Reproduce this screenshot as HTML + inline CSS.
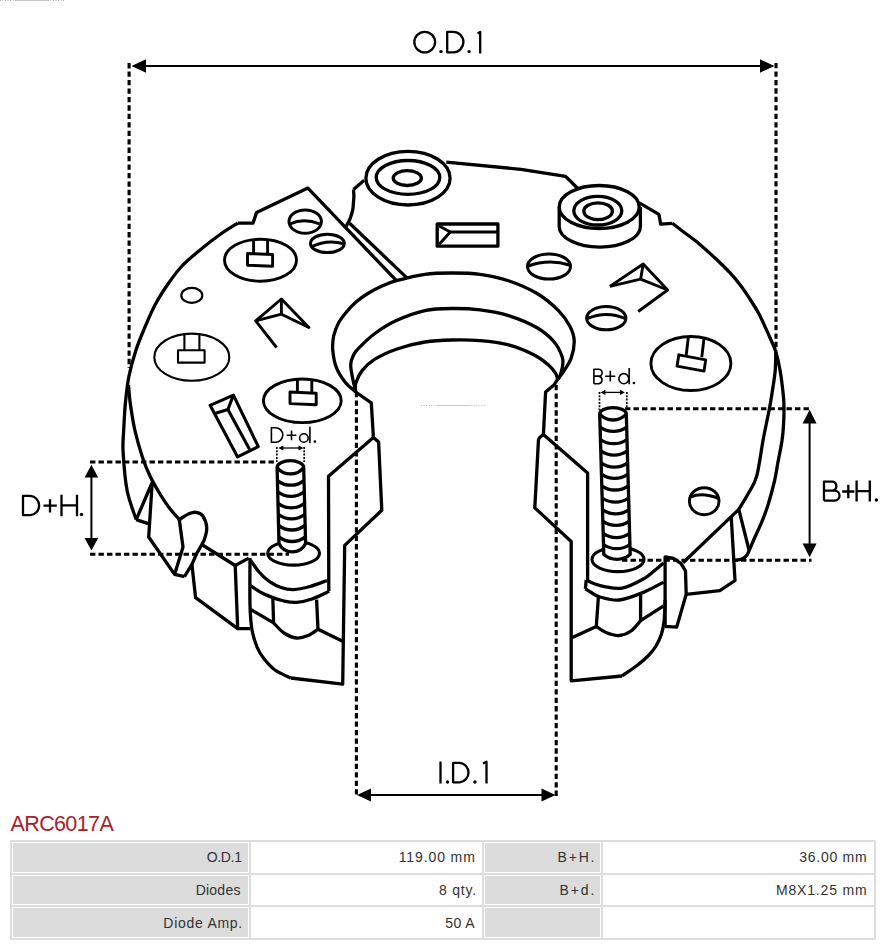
<!DOCTYPE html>
<html><head><meta charset="utf-8">
<style>
html,body{margin:0;padding:0;background:#fff;}
body{width:890px;height:946px;position:relative;overflow:hidden;font-family:"Liberation Sans",sans-serif;}
svg{position:absolute;left:0;top:0;}
svg path, svg ellipse{stroke-linejoin:round;stroke-linecap:butt;}
h1{position:absolute;left:10.5px;top:811.6px;margin:0;font-weight:normal;font-size:21.5px;line-height:24px;letter-spacing:-0.62px;color:#a8222c;}
table{position:absolute;left:10px;top:840px;border-collapse:separate;border-spacing:2px;background:#dddddd;font-size:14px;color:#333;}
td{border:1px solid #fff;height:30.67px;padding:0 4px 0 0;letter-spacing:0.85px;text-align:right;vertical-align:middle;box-sizing:border-box;}
td.l{background:#dcdcdc;}
td.v{background:#fff;}
</style></head><body>
<svg width="890" height="946" viewBox="0 0 890 946">
<g fill="none" stroke="#000">
<path d="M144 66H762" stroke-width="2.2" fill="none"/>
<path d="M131.5 66 L146 59.3 L146 72.7Z" fill="#000" stroke="none"/>
<path d="M774.5 66 L760 59.3 L760 72.7Z" fill="#000" stroke="none"/>
<path d="M129.1 63.1V368" stroke-width="3.1" stroke-dasharray="5.3 3.15"/>
<path d="M776 63V351" stroke-width="3.1" stroke-dasharray="5.3 3.15"/>
<path d="M356.4 392V797" stroke-width="3.1" stroke-dasharray="5.3 3.15"/>
<path d="M556.2 385V797" stroke-width="3.1" stroke-dasharray="5.3 3.15"/>
<path d="M368 795H545" stroke-width="2.2" fill="none"/>
<path d="M357 795 L371 788.5 L371 801.5Z" fill="#000" stroke="none"/>
<path d="M555.5 795 L541.5 788.5 L541.5 801.5Z" fill="#000" stroke="none"/>
<path d="M91.4 476V540" stroke-width="2" fill="none"/>
<path d="M91.4 464.8 L84.6 477.5 L98.2 477.5Z" fill="#000" stroke="none"/>
<path d="M91.4 550.6 L84.6 538 L98.2 538Z" fill="#000" stroke="none"/>
<path d="M90 462H277" stroke-width="3.1" stroke-dasharray="5.4 3.1"/>
<path d="M90 554.2H289" stroke-width="3.1" stroke-dasharray="5.4 3.1"/>
<path d="M809.6 422V545" stroke-width="2" fill="none"/>
<path d="M809.6 409.8 L802.6 423.5 L816.6 423.5Z" fill="#000" stroke="none"/>
<path d="M809.6 557.2 L802.6 543.5 L816.6 543.5Z" fill="#000" stroke="none"/>
<path d="M625 408.7H811.5" stroke-width="3.1" stroke-dasharray="5.4 3.1"/>
<path d="M622 560.3H811.5" stroke-width="3.1" stroke-dasharray="5.4 3.1"/>
<path d="M282 448H300" stroke-width="1.3" fill="none"/>
<path d="M278.3 448 L283.3 445.4 L283.3 450.6Z" fill="#000" stroke="none"/>
<path d="M303.5 448 L298.5 445.4 L298.5 450.6Z" fill="#000" stroke="none"/>
<path d="M276.8 447V462" stroke-width="1.7" stroke-dasharray="2 1.3"/>
<path d="M304.2 447V462" stroke-width="1.7" stroke-dasharray="2 1.3"/>
<path d="M604 392.4H622" stroke-width="1.3" fill="none"/>
<path d="M600.5 392.4 L605.4 389.8 L605.4 395Z" fill="#000" stroke="none"/>
<path d="M624.9 392.4 L620 389.8 L620 395Z" fill="#000" stroke="none"/>
<path d="M599.5 392V411" stroke-width="1.7" stroke-dasharray="2 1.3"/>
<path d="M626.8 392V408.6" stroke-width="1.7" stroke-dasharray="2 1.3"/>
<ellipse cx="424.7" cy="42.1" rx="10.4" ry="10.3" stroke-width="2.3" fill="none"/>
<circle cx="441" cy="51.6" r="1.7" fill="#000" stroke="none"/>
<path d="M447.2 31.9V52.3H453.2A10.2 10.2 0 0 0 453.2 31.9H447.2Z" stroke-width="2.3" fill="none"/>
<circle cx="469.1" cy="51.6" r="1.7" fill="#000" stroke="none"/>
<path d="M477.6 33.5L480.2 31.9V53.5" stroke-width="2.3" fill="none"/>
<path d="M440.5 761.5V783.5" stroke-width="2.3" fill="none"/>
<circle cx="447.5" cy="782" r="1.7" fill="#000" stroke="none"/>
<path d="M453.1 762.8V782.3H459.7A9.8 9.8 0 0 0 459.7 762.8H453.1Z" stroke-width="2.3" fill="none"/>
<circle cx="474.9" cy="782" r="1.7" fill="#000" stroke="none"/>
<path d="M483 763.5L486.5 761.8V783.5" stroke-width="2.3" fill="none"/>
<path d="M23 495.9V515.2H30.4A9.7 9.7 0 0 0 30.4 495.9H23Z" stroke-width="2.3" fill="none"/>
<path d="M50 499.2V512.5M43.5 505.6H56.8" stroke-width="2.3" fill="none"/>
<path d="M61.5 494.7V516.2M77 494.7V516.2M61.5 505.3H77" stroke-width="2.3" fill="none"/>
<circle cx="81.5" cy="514.4" r="1.7" fill="#000" stroke="none"/>
<path d="M824 500.7V481.7H832.5A4.5 4.5 0 0 1 832.5 490.6H824M824 490.6H834.5A5 5 0 0 1 834.5 500.7H824" stroke-width="2.3" fill="none"/>
<path d="M848.3 484.8V498.2M842.2 491.5H854.4" stroke-width="2.3" fill="none"/>
<path d="M856.6 480.5V501.6M869.8 480.5V501.6M856.6 491.2H869.8" stroke-width="2.3" fill="none"/>
<circle cx="876.4" cy="500" r="1.7" fill="#000" stroke="none"/>
<path d="M271.4 427.8V442.2H275.6A7.2 7.2 0 0 0 275.6 427.8H271.4Z" stroke-width="1.6" fill="none"/>
<path d="M291.5 430.5V440.2M286.6 435.3H296.4" stroke-width="1.6" fill="none"/>
<ellipse cx="303.9" cy="438" rx="4.3" ry="4.3" stroke-width="1.6" fill="none"/>
<path d="M309.9 426.8V442.9" stroke-width="1.6" fill="none"/>
<circle cx="314.9" cy="441.6" r="1.3" fill="#000" stroke="none"/>
<path d="M593.9 383.8V369.2H598.7A3.4 3.4 0 0 1 598.7 376.1H593.9M593.9 376.1H598.7A3.9 3.9 0 0 1 598.7 383.8H593.9" stroke-width="1.6" fill="none"/>
<path d="M610.3 370.8V381.6M605.2 376.2H615.3" stroke-width="1.6" fill="none"/>
<ellipse cx="623.8" cy="378.7" rx="4.9" ry="5.1" stroke-width="1.6" fill="none"/>
<path d="M629.2 368.1V384.3" stroke-width="1.6" fill="none"/>
<circle cx="633.9" cy="383" r="1.3" fill="#000" stroke="none"/>
<path d="M0 0.5H16" stroke-width="1" stroke-dasharray="1 1.5" style="stroke:#b0b0b0"/>
<path d="M16 0.5H48" stroke="#bbb" stroke-width="1" style="stroke:#c4c4c4"/>
<path d="M48 0.5H64" stroke-width="1" stroke-dasharray="1 1.5" style="stroke:#b0b0b0"/>
<path d="M136.2 519.6 C134.7 514.8 129.3 501.8 127.1 490.5 C124.9 479.2 123.7 462.1 123.1 452 C122.5 441.9 123.3 438.3 123.7 430 C124.1 421.7 124.6 411 125.5 402 C126.4 393 127.2 384.7 129 376 C130.8 367.3 133.3 358.2 136 350 C138.7 341.8 141.8 334.5 145 327 C148.2 319.5 151.2 312.2 155 305 C158.8 297.8 163.5 290.5 168 284 C172.5 277.5 176.7 271.7 182 266 C187.3 260.3 193.7 255.2 200 250 C206.3 244.8 213.7 239 220 234.5 C226.3 230 234.8 225 237.8 223.1" stroke-width="3.3" fill="none"/>
<path d="M237.8 223.1 L253 223.1 L256.6 212.4 L307.9 188.1 L395.7 279.9" stroke-width="3.3" fill="none"/>
<path d="M128.5 385 C128.8 388.3 129.4 397.5 130.5 405 C131.6 412.5 132.9 421.4 134.8 430 C136.8 438.6 139.7 448.7 142.2 456.4 C144.7 464.1 147 469.6 150 476 C153 482.4 157.1 489.2 160.3 494.5 C163.5 499.8 165.8 503.3 169 507.5 C172.2 511.7 177.6 517.6 179.3 519.6" stroke-width="3.3" fill="none"/>
<path d="M136.2 519.6 L148.2 523.6" stroke-width="3.3" fill="none"/>
<path d="M136.2 519.6 L152.2 482.5 L148.7 537 L174.6 574.4 L184.5 576.6" stroke-width="3.3" fill="none"/>
<path d="M179.3 519.6 C181 518.6 186.6 514.8 189.4 513.6 C192.2 512.4 193.8 512 196 512.3 C198.2 512.6 200.7 513 202.5 515.5 C204.3 518 206.4 523.2 206.7 527.2 C207 531.2 205.9 535.3 204.3 539.6 C202.7 543.9 199.1 548.9 197 553 C194.9 557.1 194 560.4 191.9 564.3 C189.8 568.2 185.7 574.5 184.5 576.6" stroke-width="3.3" fill="none"/>
<path d="M179.3 519.6 L183 547 L174.6 574.4" stroke-width="3.3" fill="none"/>
<path d="M202.5 545 L235.2 565.5 L248.8 558.1" stroke-width="3.3" fill="none"/>
<path d="M191.9 564.3 L195.6 597.7 L237.7 628.6 L250 628.6" stroke-width="3.3" fill="none"/>
<path d="M235.2 565.5 L237.7 628.6" stroke-width="3.3" fill="none"/>
<path d="M349.6 223.3 L406.9 277.9" stroke-width="3.3" fill="none"/>
<ellipse cx="260.5" cy="260.2" rx="36" ry="21" stroke-width="2.9" fill="none"/>
<path d="M253.6 239.6L253.6 253.5M267.6 239.6L267.6 254" stroke-width="2.9" fill="none"/>
<path d="M247.5 253.5 L272.6 254.5 L272.6 266.2 L247.5 265.2Z" stroke-width="2.9" fill="none"/>
<ellipse cx="191.8" cy="357.2" rx="37.5" ry="23.6" stroke-width="2.1" fill="none"/>
<path d="M184.4 334.1L184.4 350.2M199.4 334.1L199.4 350.2" stroke-width="2.1" fill="none"/>
<path d="M178 350.2 L204.6 350.2 L204.6 362.6 L178 362.6Z" stroke-width="2.1" fill="none"/>
<ellipse cx="302.3" cy="400.8" rx="38.9" ry="21.8" stroke-width="2.9" fill="none"/>
<path d="M297.4 379.2L297.4 392M311.8 379.7L311.8 392.6" stroke-width="2.9" fill="none"/>
<path d="M290 392 L316.2 393.2 L316.2 404.8 L290 403.6Z" stroke-width="2.9" fill="none"/>
<ellipse cx="191.8" cy="295.4" rx="10.5" ry="7.5" stroke-width="2.2" fill="none"/>
<ellipse cx="305.2" cy="221.6" rx="16.2" ry="11.7" stroke-width="3" fill="none"/>
<path d="M289.9 223.8 Q303.9 217.6 319.6 223.8" stroke-width="3" fill="none"/>
<ellipse cx="327.4" cy="243.4" rx="16.9" ry="9.2" stroke-width="3" fill="none"/>
<path d="M311.9 246.7 Q327.1 239 344.3 244" stroke-width="3" fill="none"/>
<path d="M276.6 347.5 L255.7 320.9 L281.4 299 L308.9 327.5 L281.4 314.2 L255.7 320.9" stroke-width="2.9" fill="none"/>
<path d="M281.4 299 L281.4 314.2" stroke-width="2.9" fill="none"/>
<path d="M210.1 405.3 L233.4 395.1 L258.3 446.7 L237.6 456.9Z" stroke-width="3.1" fill="none"/>
<path d="M215.6 413.3 L227.9 409.5 L233.4 395.1" stroke-width="3.1" fill="none"/>
<path d="M227.9 409.5 L249.5 449.2" stroke-width="3.1" fill="none"/>
<path d="M364.2 180.3L353.5 189.4" stroke-width="3.3" fill="none"/>
<path d="M353.5 189.4 C353.6 190.5 353.9 193.8 353.9 196.1 C353.9 198.4 353.6 200.8 353.4 203 C353.2 205.2 353.3 206.8 352.8 209.4 C352.3 212 351.3 215.5 350.2 218.3 C349.1 221.1 346.8 225.1 346.1 226.4" stroke-width="3.3" fill="none"/>
<path d="M446.3 162.2 L521.1 169.3 L565.6 176.4 L577.8 188.5" stroke-width="3.3" fill="none"/>
<ellipse cx="408" cy="178.2" rx="42.1" ry="26.8" stroke-width="3.3" fill="none"/>
<ellipse cx="408" cy="177.4" rx="31.8" ry="16.9" stroke-width="3.3" fill="none"/>
<ellipse cx="407.3" cy="178.1" rx="14.1" ry="7.4" stroke-width="3.3" fill="none"/>
<path d="M437.2 224 L497.9 224 L497.9 246.2 L437.2 246.2Z" stroke-width="3.3" fill="none"/>
<path d="M439.2 226 L450.3 232 L439.2 244.2" stroke-width="2.9" fill="none"/>
<path d="M450.3 232 L497.9 232" stroke-width="2.9" fill="none"/>
<path d="M355.7 392 C353.9 390.3 348.2 386.1 345 382 C341.8 377.9 338.4 372.9 336.4 367.7 C334.4 362.5 333.3 355.8 332.8 350.6 C332.3 345.4 332.7 340.9 333.6 336.3 C334.6 331.7 336.4 327 338.5 323 C340.6 319 343.5 315.6 346.4 312.1 C349.3 308.6 352.4 305.1 356 302 C359.6 298.9 363.6 296.1 367.8 293.5 C372 290.9 376.2 288.6 381 286.5 C385.8 284.4 389 282.7 396.3 280.7 C403.6 278.7 415.6 275.6 424.9 274.3 C434.2 273 442.8 273 452 273 C461.2 273 470.6 273 480 274.3 C489.4 275.6 499 277.5 508.5 280.7 C518 283.9 528.8 288.5 537.1 293.5 C545.4 298.5 553 305.1 558.5 310.6 C564 316.1 567.3 321.3 569.9 326.3 C572.5 331.3 574 335.4 574.2 340.6 C574.4 345.8 573 352.7 571.3 357.7 C569.6 362.7 566.5 367 564.2 370.6 C561.9 374.2 558.8 377.7 557.7 379.1" stroke-width="3.3" fill="none"/>
<path d="M355.7 390.5 C355.2 388.6 353.6 383.4 352.8 379.1 C352 374.8 350.6 368.9 350.7 364.9 C350.8 360.9 352.1 357.9 353.5 355 C354.9 352.1 355.6 351.3 359.2 347.7 C362.8 344.1 368.7 338 374.9 333.5 C381.1 329 388 324.4 396.3 320.6 C404.6 316.8 415.6 312.6 424.9 310.6 C434.2 308.6 442.8 308.6 452 308.5 C461.2 308.4 470.6 308.7 480 309.9 C489.4 311.1 499 312.6 508.5 315.6 C518 318.6 529.5 323.4 537.1 327.8 C544.7 332.2 550.1 337.2 554.2 342 C558.4 346.8 560.6 352.5 562 356.3 C563.4 360.1 563.1 361.6 562.7 364.9 C562.4 368.2 560.7 373.9 559.9 376.3 C559.1 378.7 558.1 378.6 557.7 379.1" stroke-width="3.3" fill="none"/>
<path d="M355.7 392 C355.7 390.6 354.6 387 355.7 383.4 C356.8 379.8 358.9 374.6 362.1 370.6 C365.3 366.6 369.2 362.8 374.9 359.2 C380.6 355.6 388 352.1 396.3 349.2 C404.6 346.3 415.6 343.5 424.9 342 C434.2 340.5 442.8 340.2 452 340 C461.2 339.8 470.6 339.8 480 340.6 C489.4 341.4 499.5 342.5 508.5 344.9 C517.5 347.3 527.5 351.6 534.2 354.9 C540.9 358.2 544.9 361.8 548.5 364.9 C552.1 368 554.1 371 555.6 373.4 C557.1 375.8 557.4 378.2 557.7 379.1" stroke-width="3.3" fill="none"/>
<path d="M421 405.5H436M468.6 405.5H485.5" stroke-width="1" stroke-dasharray="1 1.5" style="stroke:#b8b8b8"/>
<path d="M436 405.5H468.6" stroke-width="1" style="stroke:#c8c8c8"/>
<path d="M355.7 392 L371.3 402.8 L373.4 437.5 L378.6 442 L381.8 510.3 L344.7 545.4 L342.7 684.2 L290.8 678" stroke-width="3.3" fill="none"/>
<path d="M250 558 C250 565.8 249.7 593 250 605 C250.3 617 250.8 623 252 630 C253.2 637 255.1 642.3 257 647 C258.9 651.7 260.6 654.4 263.6 658.2 C266.6 662 270.5 666.7 275 670 C279.5 673.3 288.2 676.7 290.8 678" stroke-width="3.3" fill="none"/>
<path d="M373.4 437.5 L328.5 476.2 L328.8 591" stroke-width="3.3" fill="none"/>
<path d="M250.6 560.3 C252 562.2 255.8 568.4 259 572 C262.2 575.6 265.9 579.1 269.6 581.7 C273.3 584.3 277 586.2 281 587.5 C285 588.8 288.6 589.8 293.4 589.6 C298.2 589.4 304.4 588 310 586.5 C315.6 585 324.2 581.5 327 580.5" stroke-width="3.3" fill="none"/>
<path d="M250.6 585.7 C252.3 586.8 257.3 590.5 261 592.5 C264.7 594.5 269 596.2 272.8 597.6 C276.6 599 280 600.2 284 601 C288 601.8 291.9 602.6 296.6 602.3 C301.3 602 306.6 600.9 312 599 C317.4 597.1 326.3 592.5 329.2 591.2" stroke-width="3.3" fill="none"/>
<path d="M250.6 609.4 L273.6 622.9" stroke-width="3.3" fill="none"/>
<path d="M272.8 597.8 L273.6 622.9" stroke-width="3.3" fill="none"/>
<path d="M273.6 622.9 C275.3 624.6 280.2 630.5 284 633 C287.8 635.5 292.6 637.6 296.6 638 C300.6 638.4 304.4 637 308 635.5 C311.6 634 316.3 630.3 318 629.3" stroke-width="3.3" fill="none"/>
<path d="M316.6 599.6 L318 629.3 L342.7 641.2" stroke-width="3.3" fill="none"/>
<ellipse cx="293.6" cy="553.2" rx="25.9" ry="11.9" stroke-width="3.1" fill="none"/>
<path d="M277.1 467.5A13.3 6.8 0 0 1 303.7 467.5L305.6 543.5A14.7 14.7 0 0 1 279 543.5Z" stroke-width="3.3" fill="#fff"/>
<path d="M277.1 467.5A16.9 16.9 0 0 0 303.7 467.5" stroke-width="3.3" fill="none"/>
<path d="M277.4 480.6A21.5 21.5 0 0 0 304 480.6" stroke-width="3.3" fill="none"/>
<path d="M277.7 491.8A21.5 21.5 0 0 0 304.3 491.8" stroke-width="3.3" fill="none"/>
<path d="M278 503.2A21.5 21.5 0 0 0 304.6 503.2" stroke-width="3.3" fill="none"/>
<path d="M278.3 514.2A21.5 21.5 0 0 0 304.9 514.2" stroke-width="3.3" fill="none"/>
<path d="M278.5 525.4A21.5 21.5 0 0 0 305.1 525.4" stroke-width="3.3" fill="none"/>
<path d="M278.8 536.9A21.5 21.5 0 0 0 305.4 536.9" stroke-width="3.3" fill="none"/>
<path d="M0 0" stroke-width="3.3" fill="none"/>
<ellipse cx="599.2" cy="207" rx="40" ry="21.5" stroke-width="3.3" fill="none"/>
<path d="M559.2 207V226.4A40.6 20.7 0 0 0 640.4 226.4V207" stroke-width="3.3" fill="none"/>
<ellipse cx="597.8" cy="210.7" rx="24" ry="14.3" stroke-width="3.3" fill="none"/>
<ellipse cx="598.1" cy="211.2" rx="14.3" ry="8.4" stroke-width="3.3" fill="none"/>
<path d="M639.3 202.8 L658.9 214.3 L660.7 224.2 L672.4 223.3" stroke-width="3.3" fill="none"/>
<path d="M672.4 223.3 C674.5 224.9 680.5 229.6 685 233 C689.5 236.4 694.3 239.7 699.3 243.9 C704.3 248.1 709.9 253.2 715 258 C720.1 262.8 725.6 268 729.9 272.7 C734.2 277.4 737.4 281.2 741 286 C744.6 290.8 748.5 296.8 751.5 301.5 C754.5 306.2 756.6 309.5 759 314 C761.4 318.5 763.8 324.1 765.8 328.4 C767.8 332.7 769.3 336.1 771 340 C772.7 343.9 774.3 346.7 775.8 351.7 C777.3 356.7 778.7 362.6 780 370 C781.3 377.4 782.7 389.1 783.4 396 C784.1 402.9 784 406.5 784 411.3 C784 416.1 783.8 420.2 783.5 425 C783.2 429.8 783 433.8 782.1 440 C781.2 446.2 779.3 455.1 778 462 C776.7 468.9 776.1 474.3 774.4 481.5 C772.7 488.7 770.1 498.2 768 505 C765.9 511.8 763.9 516.8 761.7 522.1 C759.5 527.4 757 532.6 755 537 C753 541.4 751.3 545.5 750 548.5 C748.7 551.5 748.3 553.2 747 555 C745.7 556.8 744 558.1 742 559 C740 559.9 736.3 560.1 735.2 560.3" stroke-width="3.3" fill="none"/>
<path d="M775.8 351.7 C775.7 354.9 775.8 364.3 775.2 370.7 C774.7 377.1 773.5 383.7 772.5 390 C771.5 396.3 771 400.4 769.4 408.7 C767.8 417 765.2 428.7 763.1 440 C761 451.3 759.1 467.4 756.6 476.4 C754.1 485.4 751 488.5 748 494 C745 499.5 740.3 506.8 738.8 509.4" stroke-width="3.3" fill="none"/>
<path d="M683 562.7 L738.8 509.4 L749 550" stroke-width="3.3" fill="none"/>
<path d="M731.2 516.5 L735 580.5 L719.8 590.7 L686.2 594.3" stroke-width="3.3" fill="none"/>
<path d="M665.1 626.4 L665.1 557 L673.8 558.5 L681.1 563.6 L685.5 570.9 L686.2 594.3 L676.7 627.1 L665.1 626.4" stroke-width="3.3" fill="none"/>
<ellipse cx="549" cy="266.5" rx="21.5" ry="12.6" stroke-width="3" fill="none"/>
<path d="M528.3 266 Q548.7 258.4 570.3 265.3" stroke-width="3" fill="none"/>
<ellipse cx="606.3" cy="318.2" rx="19.6" ry="11.6" stroke-width="3" fill="none"/>
<path d="M587.2 318.5 Q606.3 310.3 625.4 318.5" stroke-width="3" fill="none"/>
<ellipse cx="704.2" cy="501.2" rx="14.8" ry="13.5" stroke-width="3" fill="none"/>
<path d="M690.7 496.9 Q702.5 492.1 718.8 498.5" stroke-width="3" fill="none"/>
<path d="M609.9 286.4 L643.2 264 L667.6 290 L638.2 311.5" stroke-width="2.9" fill="none"/>
<path d="M609.9 286.4 L640.6 279.2 L667.6 290" stroke-width="2.9" fill="none"/>
<path d="M643.2 264 L640.6 279.2" stroke-width="2.9" fill="none"/>
<ellipse cx="690.9" cy="363.5" rx="40" ry="27" stroke-width="2.9" fill="none"/>
<path d="M678.8 354.8 L705.7 359.9 L704 371.1 L677.1 366.1Z" stroke-width="2.9" fill="none"/>
<path d="M688.3 337.5L686.1 356M704 338.5L701.8 357.1" stroke-width="2.9" fill="none"/>
<path d="M557.7 379.1 L554.2 384.8 L545.6 392 L543.4 434.6 L587.6 473 L587.6 582" stroke-width="3.3" fill="none"/>
<path d="M543.4 434.6 L539.9 437.3 L538.5 439.4 L534.8 507.9 L571.2 541.5 L571.2 680.8 L622 676" stroke-width="3.3" fill="none"/>
<path d="M665.1 600 C665 603.3 664.8 614.3 664.2 620 C663.6 625.7 662.9 629.7 661.5 634 C660.1 638.3 658.2 642.3 656 646 C653.8 649.7 651.2 652.8 648 656 C644.8 659.2 641.3 662.2 637 665.5 C632.7 668.8 624.5 674.2 622 676" stroke-width="3.3" fill="none"/>
<path d="M586.2 580 C587.7 580.7 592 582.9 595 584 C598 585.1 599.9 585.9 604.4 586.6 C608.9 587.3 615.7 589.3 622.1 588.1 C628.5 586.9 637.6 582.1 642.9 579.2 C648.2 576.4 650.5 573.7 654 571 C657.5 568.3 662 564.3 663.6 563" stroke-width="3.3" fill="none"/>
<path d="M585.4 588.9 C586.5 589.6 589.6 591.6 592 593 C594.4 594.4 595.5 595.8 600 597 C604.5 598.2 612.1 600.7 619.2 600 C626.4 599.3 635.5 595.6 642.9 592.6 C650.3 589.6 660.1 583.9 663.6 582.2" stroke-width="3.3" fill="none"/>
<path d="M586.2 580 L585.4 588.9" stroke-width="3.3" fill="none"/>
<path d="M598.3 598 L596.3 626.6 L571.8 637.7" stroke-width="3.3" fill="none"/>
<path d="M640.6 595 L640.6 620.7 L663.6 605.9" stroke-width="3.3" fill="none"/>
<path d="M596.3 626.6 C597.9 627.6 602.2 631 606 632.5 C609.8 634 615 635.8 619.2 635.5 C623.4 635.2 627.4 633.5 631 631 C634.6 628.5 639 622.4 640.6 620.7" stroke-width="3.3" fill="none"/>
<ellipse cx="618" cy="559.5" rx="26" ry="12.1" stroke-width="3.1" fill="none"/>
<path d="M599.7 414A13.3 6.4 0 0 1 626.3 414L630.2 554.5A20.6 20.6 0 0 1 603.8 554.5Z" stroke-width="3.3" fill="#fff"/>
<path d="M599.7 414A17.7 17.7 0 0 0 626.3 414" stroke-width="3.3" fill="none"/>
<path d="M600.1 427.2A23.1 23.1 0 0 0 626.7 427.2" stroke-width="3.3" fill="none"/>
<path d="M600.4 439.5A23.1 23.1 0 0 0 627 439.5" stroke-width="3.3" fill="none"/>
<path d="M600.8 450.9A23.1 23.1 0 0 0 627.3 450.9" stroke-width="3.3" fill="none"/>
<path d="M601.1 462.8A23 23 0 0 0 627.7 462.8" stroke-width="3.3" fill="none"/>
<path d="M601.5 474.2A23 23 0 0 0 628 474.2" stroke-width="3.3" fill="none"/>
<path d="M601.8 485.8A23 23 0 0 0 628.3 485.8" stroke-width="3.3" fill="none"/>
<path d="M602.2 498A23 23 0 0 0 628.6 498" stroke-width="3.3" fill="none"/>
<path d="M602.5 509.6A22.9 22.9 0 0 0 629 509.6" stroke-width="3.3" fill="none"/>
<path d="M602.8 521.2A22.9 22.9 0 0 0 629.3 521.2" stroke-width="3.3" fill="none"/>
<path d="M603.2 533.4A22.9 22.9 0 0 0 629.6 533.4" stroke-width="3.3" fill="none"/>
<path d="M603.5 544.5A22.9 22.9 0 0 0 629.9 544.5" stroke-width="3.3" fill="none"/>
</g></svg>
<h1>ARC6017A</h1>
<table>
<tr><td class="l" style="width:237px;letter-spacing:-0.35px;padding-right:6.40px">O.D.1</td><td class="v" style="width:231px;letter-spacing:0.89px;padding-right:5.30px">119.00 mm</td><td class="l" style="width:117px;letter-spacing:1.80px;padding-right:3.70px">B+H.</td><td class="v" style="width:271px;letter-spacing:0.74px;padding-right:5.60px">36.00 mm</td></tr>
<tr><td class="l" style="letter-spacing:0.22px;padding-right:7.40px">Diodes</td><td class="v" style="letter-spacing:0.76px;padding-right:4.20px">8 qty.</td><td class="l" style="letter-spacing:1.90px;padding-right:3.70px">B+d.</td><td class="v" style="letter-spacing:0.81px;padding-right:5.60px">M8X1.25 mm</td></tr>
<tr><td class="l" style="letter-spacing:0.73px;padding-right:5.00px">Diode Amp.</td><td class="v" style="letter-spacing:0.43px;padding-right:6.00px">50 A</td><td class="l"></td><td class="v"></td></tr>
</table>
</body></html>
